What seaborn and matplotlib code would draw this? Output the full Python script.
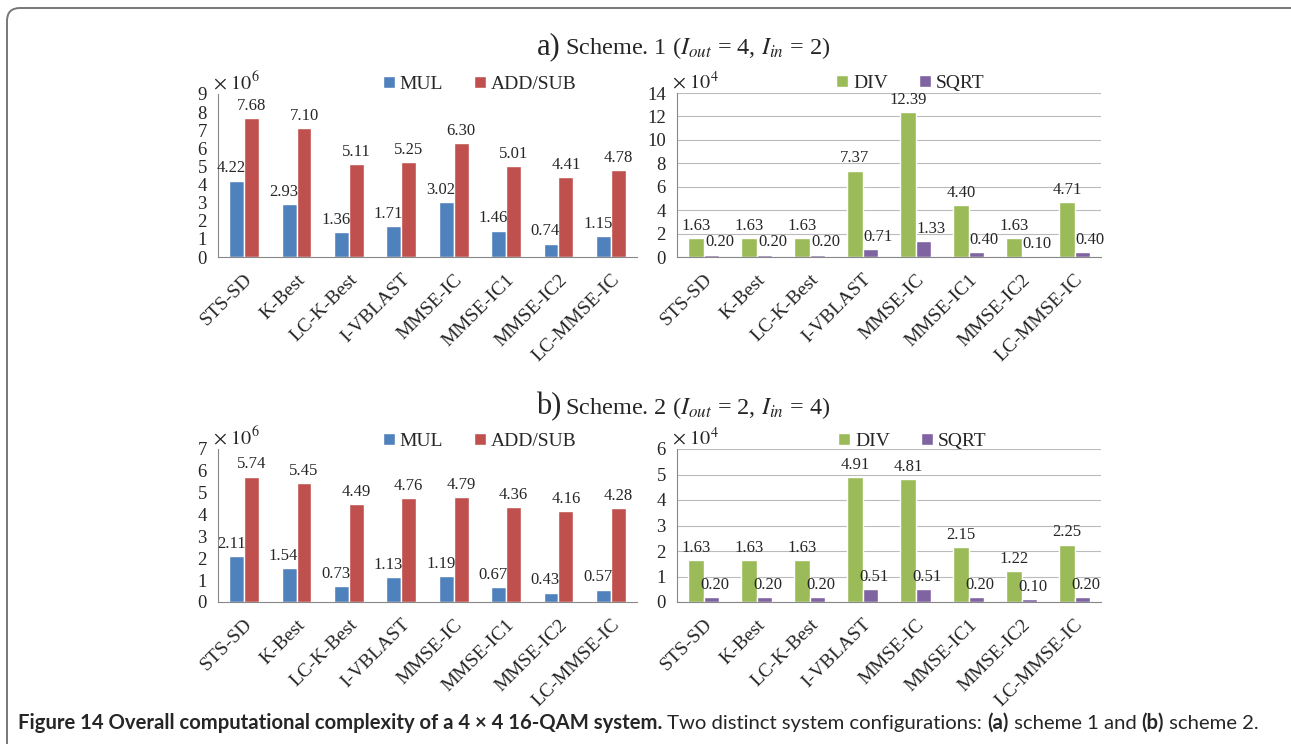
import matplotlib
matplotlib.use("Agg")
import matplotlib.pyplot as plt
from matplotlib.path import Path
from matplotlib.patches import PathPatch
import numpy as np
import pandas as pd
import seaborn as sns

methods = ["STS-SD", "K-Best", "LC-K-Best", "I-VBLAST", "MMSE-IC",
           "MMSE-IC1", "MMSE-IC2", "LC-MMSE-IC"]

# scheme 1 (x10^6 and x10^4)
s1_mul = [4.22, 2.93, 1.36, 1.71, 3.02, 1.46, 0.74, 1.15]
s1_add = [7.68, 7.10, 5.11, 5.25, 6.30, 5.01, 4.41, 4.78]
s1_div = [1.63, 1.63, 1.63, 7.37, 12.39, 4.40, 1.63, 4.71]
s1_sqrt = [0.20, 0.20, 0.20, 0.71, 1.33, 0.40, 0.10, 0.40]

# scheme 2
s2_mul = [2.11, 1.54, 0.73, 1.13, 1.19, 0.67, 0.43, 0.57]
s2_add = [5.74, 5.45, 4.49, 4.76, 4.79, 4.36, 4.16, 4.28]
s2_div = [1.63, 1.63, 1.63, 4.91, 4.81, 2.15, 1.22, 2.25]
s2_sqrt = [0.20, 0.20, 0.20, 0.51, 0.51, 0.20, 0.10, 0.20]

sns.set_style("white")
plt.rcParams["font.family"] = ["Liberation Serif", "DejaVu Serif"]
plt.rcParams["mathtext.fontset"] = "stix"

W, H = 1291, 744
fig = plt.figure(figsize=(W / 100, H / 100), dpi=100)


def px_rect(x0, y0, x1, y1):
    return [x0 / W, 1 - y1 / H, (x1 - x0) / W, (y1 - y0) / H]


def make_df(a, b, names):
    return pd.DataFrame({
        "method": methods * 2,
        "op": [names[0]] * len(methods) + [names[1]] * len(methods),
        "value": list(a) + list(b),
    })


def panel(rect, a, b, names, colors, ymax, ystep, exp, grid, leg_x, leg_y, dx):
    ax = fig.add_axes(rect)
    df = make_df(a, b, names)
    sns.barplot(data=df, x="method", y="value", hue="op", hue_order=names,
                palette=colors, width=0.57, gap=0, saturation=1,
                order=methods, ax=ax, errorbar=None)
    ax.set_xlim(-0.5, 7.5)
    ax.set_ylim(0, ymax)
    ticks = np.arange(0, ymax + 0.01, ystep)
    ax.set_yticks(ticks)
    ax.set_yticklabels([f"{v:g}" for v in ticks], fontsize=13.5)
    ax.set_xlabel("")
    ax.set_ylabel("")
    ax.set_xticks(range(len(methods)))
    ax.set_xticklabels(methods, rotation=45, ha="right", va="top",
                       rotation_mode="anchor", fontsize=14)
    ax.set_xticks(np.arange(-0.5, 8, 1), minor=True)
    ax.tick_params(axis="x", which="major", length=0, pad=10)
    ax.tick_params(axis="x", which="minor", length=5, color="#888888", width=0.8)
    ax.tick_params(axis="y", length=0, pad=8)
    for s in ["top", "right"]:
        ax.spines[s].set_visible(False)
    for s in ["left", "bottom"]:
        ax.spines[s].set_color("#888888")
        ax.spines[s].set_linewidth(0.8)
    if grid:
        ax.yaxis.grid(True, color="#BBBBBB", linewidth=0.8)
        ax.set_axisbelow(True)
    # value labels
    for k, cont in enumerate(ax.containers):
        for p in cont.patches:
            h = p.get_height()
            ax.annotate(f"{h:.2f}", (p.get_x() + p.get_width() / 2, h),
                        xytext=(dx[k], 3), textcoords="offset points",
                        ha="center", va="bottom", fontsize=12)
    handles, labels = ax.get_legend_handles_labels()
    ax.legend(handles, labels, loc="center", bbox_to_anchor=(leg_x, leg_y),
              ncol=2, frameon=False, fontsize=14, handlelength=0.6,
              handleheight=0.6, handletextpad=0.25, columnspacing=1.6,
              borderaxespad=0)
    ax.text(-0.012, 0.995, rf"$\times\ 10^{exp}$", transform=ax.transAxes,
            ha="left", va="bottom", fontsize=14.5)
    return ax


blue, red, green, purple = "#4F81BD", "#C0504D", "#9BBB59", "#8064A2"

panel(px_rect(218, 94, 637, 257), s1_mul, s1_add, ["MUL", "ADD/SUB"],
      [blue, red], 9, 1, 6, False, 0.625, 1.06, [-4, 0])
panel(px_rect(677, 93, 1101, 257), s1_div, s1_sqrt, ["DIV", "SQRT"],
      [green, purple], 14, 2, 4, True, 0.55, 1.06, [0, 6])
panel(px_rect(218, 449, 637, 602), s2_mul, s2_add, ["MUL", "ADD/SUB"],
      [blue, red], 7, 1, 6, False, 0.625, 1.05, [-4, 0])
panel(px_rect(677, 449, 1101, 602), s2_div, s2_sqrt, ["DIV", "SQRT"],
      [green, purple], 6, 1, 4, True, 0.555, 1.05, [0, 3])

# panel titles
for tag, rest, yb in [("a)", r"Scheme. 1 ($I_{out}$ = 4, $I_{in}$ = 2)", 54),
                      ("b)", r"Scheme. 2 ($I_{out}$ = 2, $I_{in}$ = 4)", 414)]:
    fig.text(561 / W, 1 - yb / H, tag, ha="right", va="baseline", fontsize=22)
    fig.text(565 / W, 1 - yb / H, rest, ha="left", va="baseline", fontsize=17.5)

# frame (left and top edges with rounded corner)
r = 13
verts = [(7, H), (7, 8 + r), (7, 8), (7 + r, 8), (W, 8)]
codes = [Path.MOVETO, Path.LINETO, Path.CURVE3, Path.CURVE3, Path.LINETO]
verts = [(x / W, 1 - y / H) for x, y in verts]
fig.patches.append(PathPatch(Path(verts, codes), transform=fig.transFigure,
                             fill=False, edgecolor="#777777", linewidth=1.4))

# caption
pieces = [
    ("Figure 14 Overall computational complexity of a 4 \u00d7 4 16-QAM system.", "bold"),
    (" Two distinct system configurations: ", "normal"),
    ("(a)", "bold"),
    (" scheme 1 and ", "normal"),
    ("(b)", "bold"),
    (" scheme 2.", "normal"),
]
renderer = fig.canvas.get_renderer()
x = 18 / W
for txt, wt in pieces:
    t = fig.text(x, 1 - 729 / H, txt, ha="left", va="baseline",
                 fontsize=14.6, fontweight=wt, family="Lato")
    bb = t.get_window_extent(renderer)
    x = bb.x1 / fig.bbox.width

fig.savefig("out.png", dpi=100)
